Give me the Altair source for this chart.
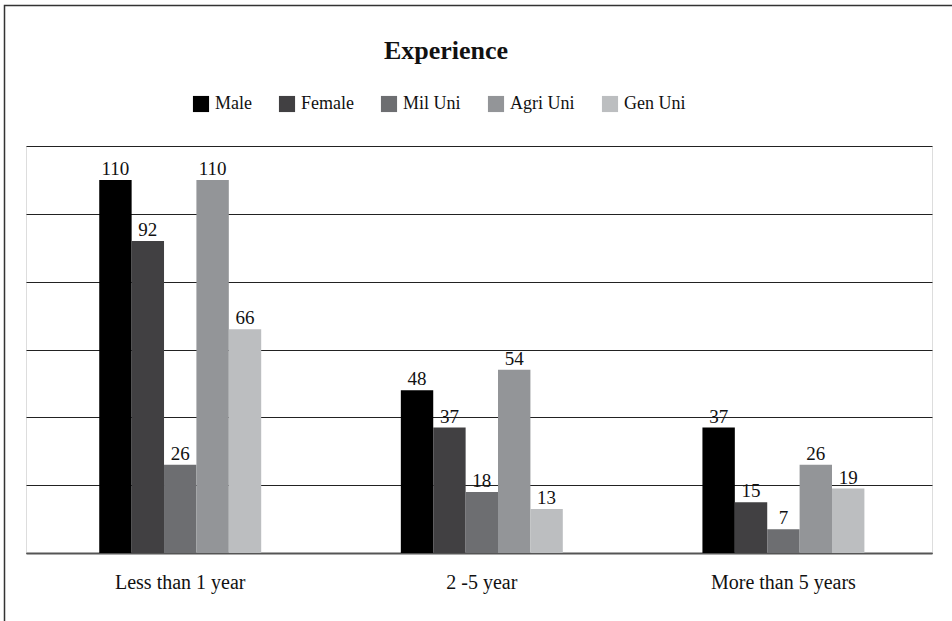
import altair as alt
import pandas as pd

# Experience by respondent group
categories = ["Less than 1 year", "2 -5 year", "More than 5 years"]
series = ["Male", "Female", "Mil Uni", "Agri Uni", "Gen Uni"]
male = [110, 48, 37]
female = [92, 37, 15]
mil_uni = [26, 18, 7]
agri_uni = [110, 54, 26]
gen_uni = [66, 13, 19]
colors = ["#000000", "#414042", "#6d6e71", "#939598", "#bcbec0"]
grid_values = [0, 20, 40, 60, 80, 100, 120]

values_by_series = dict(zip(series, [male, female, mil_uni, agri_uni, gen_uni]))
rows = []
for s in series:
    for c, v in zip(categories, values_by_series[s]):
        rows.append({"category": c, "series": s, "value": v})
df = pd.DataFrame(rows)

FONT = "'Liberation Serif', 'DejaVu Serif', serif"

x_enc = alt.X(
    "category:N",
    sort=categories,
    scale=alt.Scale(paddingInner=0.463, paddingOuter=0.2335, align=0.52),
    axis=alt.Axis(
        title=None,
        labelAngle=0,
        ticks=False,
        domain=True,
        domainColor="#555555",
        domainWidth=2,
        labelFont=FONT,
        labelFontSize=20,
        labelColor="#111111",
        labelPadding=19,
    ),
)
xo_enc = alt.XOffset("series:N", sort=series)
y_enc = alt.Y(
    "value:Q",
    scale=alt.Scale(domain=[0, 120], nice=False),
    axis=alt.Axis(
        title=None,
        labels=False,
        ticks=False,
        domain=False,
        values=grid_values,
        grid=True,
        gridColor="#222222",
        gridWidth=1.2,
    ),
)

bars = alt.Chart(df).mark_bar(size=32.4).encode(
    x=x_enc,
    xOffset=xo_enc,
    y=y_enc,
    color=alt.Color(
        "series:N",
        sort=series,
        scale=alt.Scale(domain=series, range=colors),
        legend=alt.Legend(
            title=None,
            orient="none",
            direction="horizontal",
            legendX=166,
            legendY=-51,
            symbolType="square",
            symbolSize=260,
            symbolStrokeWidth=0,
            symbolOpacity=1,
            labelFont=FONT,
            labelFontSize=18,
            labelColor="#111111",
            labelOffset=5,
            columnPadding=26,
        ),
    ),
)

labels = alt.Chart(df).mark_text(
    baseline="alphabetic", dy=-5, font=FONT, fontSize=19, color="#111111"
).encode(
    x=alt.X("category:N", sort=categories),
    xOffset=xo_enc,
    y="value:Q",
    text="value:Q",
)

frame = alt.Chart(pd.DataFrame({"f": [0]})).mark_rect(
    fill=None, stroke="#333333", strokeWidth=1.5
).encode(
    x=alt.value(-21.5), x2=alt.value(960), y=alt.value(-140.5), y2=alt.value(520)
)

chart = (
    alt.layer(frame, bars, labels)
    .properties(
        width=906,
        height=407,
        autosize=alt.AutoSizeParams(type="none"),
        padding={"left": 26, "top": 146, "right": 20, "bottom": 68},
        title=alt.TitleParams(
            "Experience",
            font=FONT,
            fontSize=26,
            fontWeight="bold",
            color="#111111",
            anchor="middle",
            baseline="alphabetic",
            dx=-33,
            dy=80,
            offset=0,
        ),
    )
    .configure_view(stroke=None)
    .configure(background="white")
)

chart.save("out.html", embed_options={"renderer": "svg", "actions": False})
